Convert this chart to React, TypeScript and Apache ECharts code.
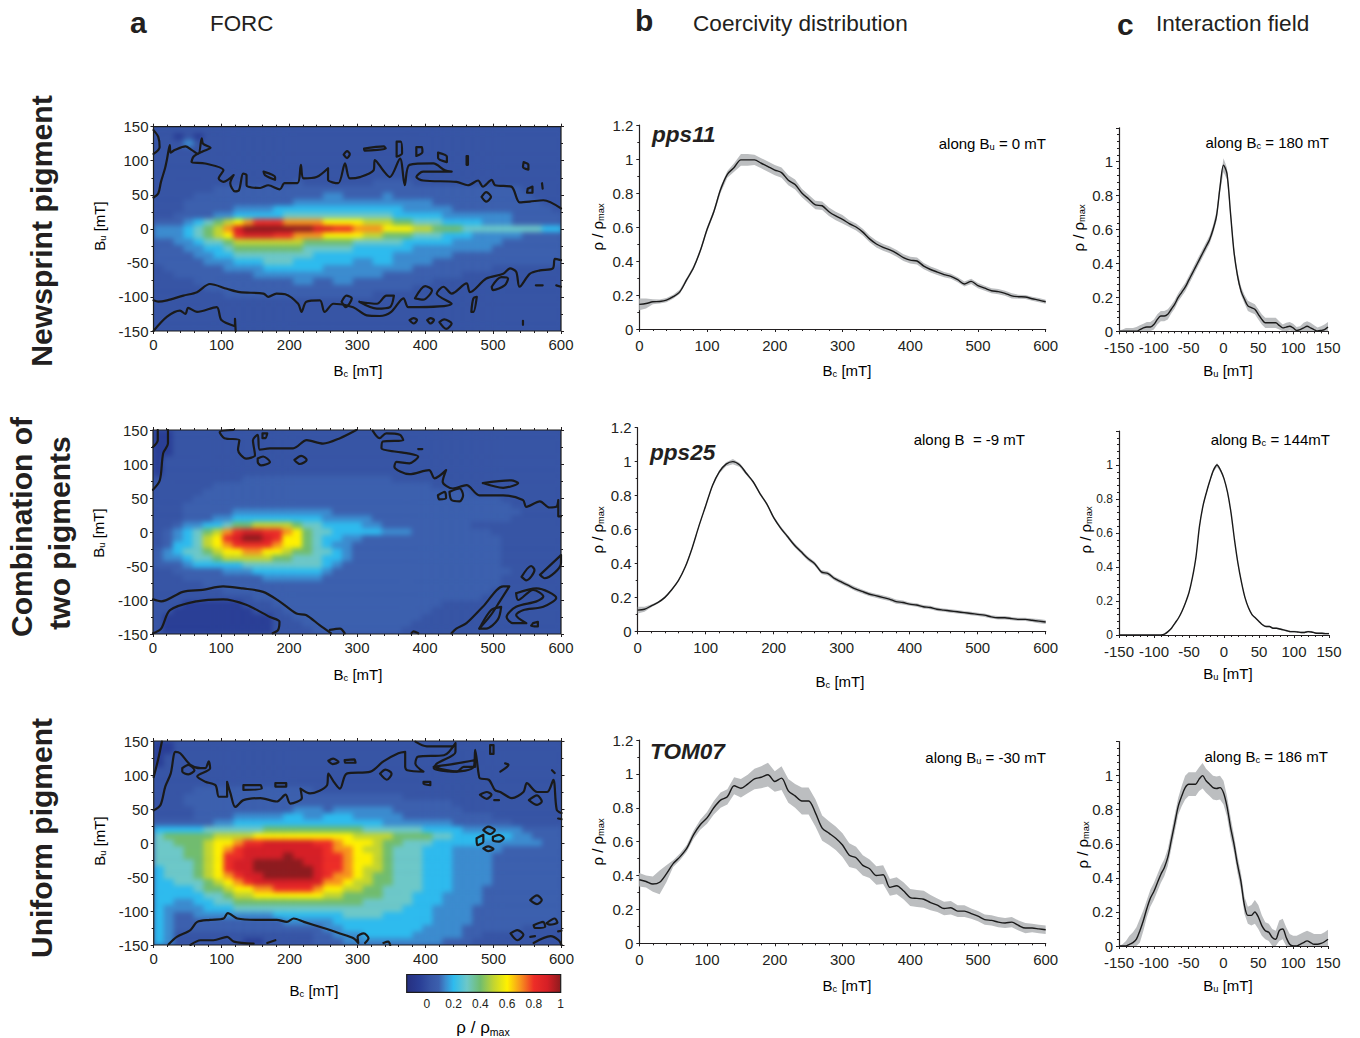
import React, { useEffect, useRef } from "react";
import * as echarts from "echarts";

const FONT = "'Liberation Sans', Arial, sans-serif";
const INK = "#231f20";

const LEVEL_CHARS = "0123456789abc";
const LEVEL_RHO = [-0.05, 0.03, 0.09, 0.14, 0.2, 0.3, 0.4, 0.5, 0.6, 0.7, 0.8, 0.9, 1];
const LEVEL_COLORS = ["#2a3f96", "#3755a5", "#3c60ae", "#3c8ccf", "#2ebbee", "#6dc8c8", "#71bd6e", "#c3d530", "#fff100", "#f7941d", "#ed2d27", "#d61f26", "#8e1b1e"];

// Heat tables: rows from Bu = +150 to -150 in 10 mT steps, columns from Bc = 0 to 600 in 15 mT steps.
const HEAT_A = [
  "11111111111111111111111111111111111111111",
  "11010111111111111111111111111111111111111",
  "11131111111111111111111111111111111111111",
  "11111111111111111111111111111111111111111",
  "11111111111111111111111111111111111111111",
  "11111111111111111111111111111111111111111",
  "11111111111111111111111111111111111111111",
  "11111111111111111111111111111111111111111",
  "11111111111111211111112222111111111111111",
  "11111122222222222222222222222222222221111",
  "11112222222222222332222322222222222222111",
  "11122222222222333333333333332222222222211",
  "11122222333344444444444443333322222222221",
  "11222233444445555555555544444333333322222",
  "2223456789" + "aaa9999888" + "8777665554" + "44433322222",
  "3334567" + "9bc" + "ccccccbbaa" + "9998887766" + "65555555544",
  "3334567" + "8ab" + "bbaa999888" + "8776665554" + "44333332222",
  "2233455677" + "7777766666" + "5555544444" + "33333222222",
  "2223344566" + "6666655555" + "4444443333" + "33332222222",
  "2222334455" + "5555554444" + "4444333333" + "22222222222",
  "2222233344" + "4555444444" + "3344333322" + "22222222222",
  "1222222333" + "3444444333" + "3333332222" + "22221111111",
  "1122222222" + "3333333333" + "3332222222" + "21111111111",
  "1111222222" + "2222332233" + "2222222211" + "11111111111",
  "1111122222" + "2222222222" + "2222221111" + "11111111111",
  "1111111222" + "2222222222" + "2211111111" + "11111111111",
  "11111111111111111111111111111111111111111",
  "11111111111111111111111111111111111111111",
  "11111111111111111111111111111111111111111",
  "11111111111111111111111111111111111111111",
  "11111111111111111111111111111111111111111",
];
const HEAT_B = [
  "00111111111111111111111111111111111111111",
  "00111111111111111111111111111111111111111",
  "00111111111111111111111111111111111111111",
  "00111111111111111111111111111111111111111",
  "01111111111111111111111111111111111111111",
  "01111111111111111111111111111111111111111",
  "01111111111111111111111111111111111111111",
  "11111111122222222222222211111111111111111",
  "11111122222222222222222222221111111111111",
  "11111222222222222222222222222222111111111",
  "11112222222222222222222222222222222111111",
  "11122222222222222222222222222222222211111",
  "1112222233" + "3333333322" + "2222222222" + "22222221111",
  "1112223344" + "4444444333" + "3322222222" + "22222211111",
  "1123344566" + "7777655444" + "4332222222" + "22111111111",
  "1234567" + "9ab" + "baa9865544" + "4443332222" + "22221111111",
  "1234578abc" + "cba8865443" + "3222222222" + "22222111111",
  "1244578" + "9aa" + "aa98865433" + "2222222222" + "22222111111",
  "2345567889" + "9887665543" + "2222222222" + "22222111111",
  "2334556777" + "7766555443" + "2222222222" + "22222111111",
  "2223444445" + "5555555432" + "2222222222" + "22222111111",
  "1122222333" + "4444444322" + "2222222222" + "22222211111",
  "1112222222" + "2333333222" + "2222222222" + "22222111111",
  "1111122222" + "2222222222" + "2222222222" + "22222111111",
  "1111111222" + "2222222222" + "2222222222" + "22221111111",
  "1111111111" + "2222222222" + "2222222222" + "22211111111",
  "1110000001" + "1122222222" + "2222222221" + "11111111111",
  "1100000000" + "1112222222" + "2222222211" + "11111111111",
  "1000000000" + "0011222222" + "2222222111" + "11111111111",
  "1000000000" + "0011122222" + "2222221111" + "11111111111",
  "1000000000" + "0011112222" + "2222211111" + "11111111111",
];
const HEAT_C = [
  "00111111111111111111111111111111111111111",
  "00111111111111111111111111111111111111111",
  "01111111111111111111111111111111111111111",
  "01111111111111111111111111111111111111111",
  "11111111111111111111111111111111111111111",
  "11111111111111111111111111111111111111111",
  "11111111111111111111111111111111111111111",
  "11112222222222221111111111111111111111111",
  "11122222222222222222222221111111111111111",
  "11122222222222222222222222222211111111111",
  "1111222222" + "2222333233" + "3333222222" + "21111111111",
  "1111222233" + "3334433444" + "3333322222" + "22221111111",
  "2222223344" + "4444444444" + "4443333333" + "22222211111",
  "4444455555" + "5666666666" + "6555555444" + "43333332222",
  "5666667777" + "8888888888" + "7777666655" + "44444433222",
  "5566678" + "89a" + "abbbbbaa98" + "8876655544" + "44433333322",
  "5556678" + "9ab" + "bbbbbbba99" + "8776555444" + "33333222222",
  "5556678" + "aab" + "bbbcbbbaa9" + "8876555444" + "33332222222",
  "5555678" + "abb" + "cccccbbaa9" + "8876555444" + "33332222222",
  "4555678" + "abb" + "ccccccbaa9" + "8776555444" + "33332222222",
  "4555678" + "9ab" + "bcccccba99" + "8766555444" + "33332222222",
  "4455567" + "89a" + "bbbbbbb998" + "7766555444" + "33332222222",
  "4444566" + "788" + "99aaaa9887" + "7665555444" + "33322222222",
  "4444455" + "677" + "8888888776" + "6665554443" + "33322222222",
  "4433445566" + "6666666666" + "6555554443" + "33322222222",
  "4333344455" + "5555555555" + "5555544433" + "33222222222",
  "4322333333" + "3344444445" + "5554444433" + "33222222222",
  "4322222222" + "2223333344" + "4444444433" + "33222222222",
  "4322222222" + "2222222334" + "4444444333" + "32222221111",
  "4311111111" + "1111112233" + "3444443333" + "32211111111",
  "4311111110" + "0111112223" + "3333333332" + "22111111111",
];

// Contours, as lists of [Bc, Bu] rings and lines.
const CONTOURS_A = [
  [[0,145],[7,135],[9,120],[0,110]],
  [[0,46],[7,52],[11,69],[17,89],[20,103],[24,123],[25,112],[32,116],[47,121],[56,116],[66,110],[71,133],[73,125],[84,119],[73,114],[59,106],[56,98],[76,96],[103,86],[96,74],[103,69],[118,79],[113,67],[120,55],[126,57],[132,81],[137,79],[137,64],[157,60],[169,64],[186,58],[193,67],[212,67],[217,94],[221,74],[240,76],[257,89],[257,72],[272,67],[282,96],[289,74],[304,76],[324,86],[326,101],[338,86],[348,76],[363,103],[370,64],[377,94],[412,96],[429,86],[439,84],[397,84],[387,76],[397,71],[446,69],[463,64],[478,71],[485,62],[498,72],[503,64],[527,62],[539,39],[554,40],[574,42],[600,30]],
  [[162,84],[179,76],[179,72],[164,79],[162,84]],
  [[280,109],[285,114],[289,110],[285,104],[280,109]],
  [[310,118],[339,121],[342,118],[311,115],[310,118]],
  [[358,128],[364,128],[366,111],[358,106],[358,128]],
  [[387,120],[395,120],[396,113],[387,107],[387,120]],
  [[419,112],[432,106],[432,98],[419,104],[419,112]],
  [[461,107],[463,107],[463,94],[461,94],[461,107]],
  [[545,98],[552,94],[552,87],[544,91],[545,98]],
  [[551,59],[558,62],[558,53],[550,53],[551,59]],
  [[572,67],[573,59]],
  [[483,47],[490,54],[497,47],[490,40],[483,47]],
  [[0,-105],[7,-107],[20,-105],[44,-98],[64,-93],[83,-81],[108,-88],[127,-93],[162,-95],[169,-100],[181,-95],[194,-96],[213,-110],[218,-122],[225,-107],[245,-105],[252,-122],[265,-110],[294,-115],[314,-127],[333,-128],[350,-122],[368,-102],[375,-115],[390,-115],[439,-110],[417,-95],[427,-85],[439,-95],[461,-80],[466,-93],[490,-73],[515,-66],[525,-58],[534,-63],[539,-85],[554,-66],[569,-61],[588,-58],[591,-44],[600,-46]],
  [[277,-107],[284,-98],[292,-102],[283,-115],[277,-107]],
  [[303,-107],[329,-117],[348,-115],[354,-98],[343,-98],[329,-110],[303,-107]],
  [[385,-102],[400,-84],[410,-90],[397,-104],[385,-102]],
  [[498,-85],[512,-71],[522,-73],[517,-83],[500,-90],[498,-85]],
  [[468,-122],[471,-102],[476,-100],[471,-122],[468,-122]],
  [[563,-83],[573,-83]],
  [[593,-83],[600,-85]],
  [[377,-134],[383,-131],[388,-134],[383,-139],[377,-134]],
  [[403,-134],[408,-131],[413,-134],[408,-139],[403,-134]],
  [[421,-137],[428,-133],[439,-139],[431,-147],[421,-137]],
  [[544,-135],[544,-141]],
  [[0,-150],[20,-129],[39,-120],[47,-125],[51,-116],[64,-122],[93,-115],[100,-134],[120,-143],[120,-132],[121,-150]],
];
const CONTOURS_B = [
  [[7,150],[7,135],[0,125]],
  [[22,150],[22,130],[15,116],[10,76],[0,62]],
  [[118,150],[98,147],[105,138],[127,135],[125,121],[137,108],[150,113],[147,135],[154,143],[157,121],[172,123],[186,123],[206,123],[226,135],[250,130],[275,138],[299,150]],
  [[323,149],[333,138],[343,145],[363,143],[368,135],[338,133],[336,123],[358,118],[373,116],[390,111],[377,101],[358,103],[355,96],[377,85],[406,91],[414,79],[431,91],[426,74],[441,64],[461,69],[480,54],[515,54],[544,47],[549,37],[569,45],[583,36],[593,37],[596,47],[596,23],[600,23]],
  [[154,108],[162,111],[172,103],[159,98],[154,103],[154,108]],
  [[208,106],[218,112],[226,106],[216,100],[208,106]],
  [[485,72],[527,76],[537,72],[515,65],[485,72]],
  [[419,54],[429,59],[431,50],[421,48],[419,54]],
  [[436,59],[451,64],[456,54],[451,45],[439,47],[436,59]],
  [[161,145],[168,145],[165,138],[161,138],[161,145]],
  [[390,122],[396,122]],
  [[0,-99],[12,-102],[44,-88],[73,-85],[103,-80],[132,-83],[162,-88],[186,-102],[211,-120],[225,-122],[245,-137],[262,-149]],
  [[0,-149],[12,-142],[25,-115],[64,-102],[103,-99],[137,-107],[172,-125],[186,-132],[184,-144],[176,-149]],
  [[260,-144],[275,-142],[282,-149]],
  [[439,-149],[446,-142],[461,-134],[485,-110],[515,-80],[524,-80],[510,-102],[497,-122],[480,-142]],
  [[480,-142],[497,-115],[512,-110],[507,-129],[490,-142],[480,-142]],
  [[534,-90],[564,-83],[593,-97],[574,-110],[544,-115],[534,-122],[549,-134],[529,-134],[520,-125],[534,-110],[564,-102],[574,-95],[559,-85],[537,-100],[534,-90]],
  [[542,-66],[556,-50],[561,-56],[549,-71],[542,-66]],
  [[569,-63],[600,-34],[600,-46],[576,-68],[569,-63]],
  [[559,-134],[566,-132],[566,-139],[556,-138],[559,-134]],
  [[380,-149],[383,-146],[390,-149]],
];
const CONTOURS_C = [
  [[0,97],[7,125],[12,149]],
  [[0,48],[10,56],[17,83],[25,102],[32,134],[39,132],[54,115],[69,110],[76,110],[81,120],[83,110],[64,98],[76,90],[91,85],[96,68],[108,68],[108,90],[113,73],[120,53],[132,63],[157,66],[181,61],[194,71],[201,58],[218,66],[216,80],[230,73],[255,85],[257,102],[265,90],[274,80],[284,102],[319,105],[338,120],[360,132],[370,134],[370,112],[373,107],[397,105],[385,117],[389,127],[427,129],[444,147],[444,134],[417,117],[412,110],[441,105],[471,112],[473,137],[478,102],[480,95],[493,93],[502,78],[510,75],[527,66],[544,75],[549,88],[564,75],[579,75],[588,93],[593,49],[600,44]],
  [[385,149],[402,142],[441,142]],
  [[42,110],[51,115],[60,107],[51,101],[42,105],[42,110]],
  [[257,121],[264,124],[272,119],[263,116],[257,121]],
  [[281,122],[295,123],[297,118],[282,118],[281,122]],
  [[333,102],[341,108],[350,102],[343,93],[333,102]],
  [[132,85],[157,85],[159,80],[132,78],[132,85]],
  [[179,88],[195,88],[195,83],[179,83],[179,88]],
  [[412,112],[446,117],[473,122],[473,112],[456,112],[446,105],[417,110],[412,112]],
  [[397,90],[407,90],[407,85],[397,87],[397,90]],
  [[480,71],[490,75],[497,71],[490,65],[480,71]],
  [[501,63],[508,63]],
  [[552,63],[564,70],[571,61],[564,56],[552,63]],
  [[495,144],[495,131],[500,131],[500,144],[495,144]],
  [[517,117],[522,115],[510,105]],
  [[586,107],[590,103]],
  [[595,36],[600,35]],
  [[485,19],[492,24],[502,19],[495,13],[485,19]],
  [[499,9],[508,12],[515,7],[508,2],[499,4],[499,9]],
  [[475,7],[485,12],[485,2],[476,-3],[475,7]],
  [[485,-8],[492,-5],[500,-9],[492,-12],[485,-8]],
  [[22,-149],[34,-138],[54,-128],[64,-116],[83,-113],[103,-111],[109,-103],[123,-111],[152,-113],[181,-113],[196,-116],[206,-111],[221,-116],[250,-125],[274,-133],[294,-140],[301,-147],[300,-138],[309,-133],[316,-140],[311,-147]],
  [[54,-150],[69,-143],[88,-143],[108,-138],[118,-145],[147,-148]],
  [[167,-147],[179,-143]],
  [[338,-147],[345,-145],[348,-150]],
  [[554,-84],[564,-77],[571,-84],[564,-90],[554,-84]],
  [[559,-121],[573,-116],[576,-123],[561,-125],[559,-121]],
  [[578,-118],[590,-111],[594,-117],[583,-120],[578,-118]],
  [[525,-133],[535,-128],[544,-135],[535,-143],[525,-133]],
  [[554,-138],[561,-137]],
  [[559,-147],[584,-137],[596,-143],[600,-150]],
  [[595,-130],[600,-129]],
];

// Coercivity distributions: Bc = 0..600, step 10 mT.
const BC_GRID = [0,10,20,30,40,50,60,70,80,90,100,110,120,130,140,150,160,170,180,190,200,210,220,230,240,250,260,270,280,290,300,310,320,330,340,350,360,370,380,390,400,410,420,430,440,450,460,470,480,490,500,510,520,530,540,550,560,570,580,590,600];
const B1_MEAN = [.145,.15,.16,.162,.17,.19,.22,.29,.36,.46,.585,.69,.82,.91,.95,.995,.995,.995,.975,.955,.935,.92,.875,.85,.8,.765,.73,.725,.69,.665,.645,.62,.6,.57,.53,.5,.48,.465,.445,.42,.405,.4,.37,.35,.335,.32,.31,.29,.265,.28,.255,.24,.225,.22,.21,.195,.19,.188,.178,.17,.16];
const B1_SPREAD = [.035,.03,.015,.012,.012,.012,.012,.012,.012,.012,.015,.015,.02,.02,.025,.035,.035,.03,.03,.03,.03,.03,.03,.03,.025,.025,.025,.025,.025,.025,.025,.02,.02,.02,.02,.02,.02,.02,.02,.02,.02,.02,.018,.018,.018,.015,.015,.015,.015,.015,.015,.015,.015,.015,.015,.015,.012,.012,.012,.012,.012];
const B2_MEAN = [.125,.13,.15,.17,.2,.245,.3,.38,.49,.62,.74,.86,.94,.985,1,.98,.93,.88,.81,.75,.67,.61,.56,.51,.47,.43,.4,.35,.34,.31,.29,.27,.25,.235,.22,.21,.2,.19,.175,.17,.16,.155,.145,.14,.13,.125,.12,.115,.11,.105,.1,.095,.085,.08,.08,.075,.07,.07,.065,.06,.055];
const B2_SPREAD = [.02,.015,.008,.006,.006,.006,.006,.006,.006,.006,.006,.008,.01,.012,.015,.012,.01,.008,.008,.008,.008,.01,.01,.012,.012,.012,.012,.012,.012,.012,.012,.012,.012,.012,.012,.012,.012,.012,.012,.012,.01,.01,.01,.01,.01,.01,.01,.01,.01,.01,.01,.01,.01,.01,.01,.01,.01,.01,.01,.012,.012];
const B3_MEAN = [.375,.365,.35,.36,.41,.47,.51,.56,.64,.7,.74,.8,.845,.865,.93,.915,.94,.97,.98,.995,.955,.975,.9,.87,.84,.84,.77,.68,.65,.62,.58,.52,.505,.46,.44,.4,.405,.33,.34,.31,.27,.265,.26,.24,.225,.205,.21,.19,.19,.175,.16,.14,.135,.125,.12,.125,.105,.09,.09,.085,.08];
const B3_SPREAD = [.04,.035,.045,.07,.05,.02,.02,.02,.025,.03,.035,.04,.045,.045,.05,.055,.055,.06,.065,.07,.06,.07,.07,.07,.08,.08,.08,.075,.07,.07,.07,.07,.065,.06,.055,.055,.055,.05,.05,.05,.05,.05,.05,.045,.04,.04,.04,.035,.035,.03,.03,.03,.03,.03,.03,.03,.03,.03,.025,.025,.025];

// Interaction field profiles: Bu = -150..150, step 5 mT.
const BU_GRID = [-150,-145,-140,-135,-130,-125,-120,-115,-110,-105,-100,-95,-90,-85,-80,-75,-70,-65,-60,-55,-50,-45,-40,-35,-30,-25,-20,-15,-10,-5,0,5,10,15,20,25,30,35,40,45,50,55,60,65,70,75,80,85,90,95,100,105,110,115,120,125,130,135,140,145,150];
const C1_MEAN = [0,0,0,0,0,0,.01,.02,.025,.025,.04,.07,.09,.09,.1,.13,.16,.2,.23,.26,.3,.34,.38,.42,.46,.5,.54,.6,.68,.85,.98,.93,.7,.47,.33,.24,.19,.15,.14,.13,.1,.07,.05,.05,.05,.05,.035,.02,.025,.03,.02,.005,.01,.02,.03,.02,.01,.002,.005,.01,.025];
const C1_SPREAD = [.005,.01,.02,.02,.02,.025,.025,.025,.03,.03,.03,.03,.03,.03,.03,.025,.025,.025,.025,.025,.025,.025,.025,.025,.025,.025,.025,.025,.03,.03,.04,.035,.025,.025,.025,.025,.025,.03,.03,.03,.03,.03,.03,.03,.03,.03,.025,.02,.025,.025,.025,.02,.02,.03,.03,.03,.025,.02,.025,.03,.03];
const C2_MEAN = [0,0,0,0,0,0,0,0,0,0,0,0,0,.005,.02,.04,.07,.1,.14,.19,.25,.34,.46,.64,.76,.84,.91,.97,1,.97,.92,.84,.72,.56,.42,.31,.22,.16,.12,.1,.08,.06,.05,.05,.04,.04,.035,.03,.025,.02,.02,.018,.015,.015,.02,.018,.012,.01,.01,.008,.008];
const C2_SPREAD = [0,0,0,0,0,0,0,0,0,0,0,0,0,.002,.004,.005,.005,.005,.005,.005,.005,.005,.005,.005,.008,.008,.008,.01,.012,.01,.008,.006,.005,.005,.005,.005,.005,.005,.005,.005,.005,.005,.005,.005,.005,.005,.005,.005,.005,.005,.005,.005,.005,.005,.005,.005,.005,.005,.005,.005,.005];
const C3_MEAN = [0,0,0,.01,.02,.04,.09,.15,.22,.28,.32,.37,.42,.46,.52,.62,.72,.82,.88,.93,.95,.95,.95,.98,1,.97,.95,.93,.925,.93,.9,.82,.7,.6,.48,.38,.24,.18,.18,.2,.17,.12,.09,.08,.05,.04,.09,.1,.05,.01,0,0,.01,.02,.03,.02,.01,.01,.015,.025,.04];
const C3_SPREAD = [0,.01,.03,.05,.06,.07,.07,.06,.05,.05,.05,.05,.05,.05,.05,.05,.05,.05,.06,.07,.07,.07,.07,.07,.075,.07,.07,.07,.07,.07,.07,.06,.06,.05,.05,.05,.05,.05,.06,.07,.07,.06,.05,.05,.05,.05,.06,.06,.06,.06,.06,.06,.06,.06,.06,.06,.06,.06,.055,.055,.055];

const COLORBAR_TICKS = [0, 0.2, 0.4, 0.6, 0.8, 1];

const FORC_RECTS = [
  { left: 153.5, top: 126.7, width: 407.5, height: 204.3 },
  { left: 153, top: 430, width: 408, height: 204 },
  { left: 153.7, top: 741, width: 407.8, height: 204 },
];

function Heat({ rows, rect }: { rows: string[]; rect: { left: number; top: number; width: number; height: number } }) {
  const ref = useRef<HTMLDivElement>(null);
  useEffect(() => {
    const chart = echarts.init(ref.current!, null, { renderer: "svg" });
    const data: number[][] = [];
    rows.forEach((row, r) => {
      for (let c = 0; c < row.length && c < 41; c++) data.push([c, r, LEVEL_RHO[LEVEL_CHARS.indexOf(row[c])]]);
    });
    chart.setOption({
      animation: false,
      grid: { left: 0, right: 0, top: 0, bottom: 0 },
      xAxis: { type: "category", show: false, data: Array.from({ length: 41 }, (_, i) => i * 15) },
      yAxis: { type: "category", show: false, inverse: true, data: Array.from({ length: 31 }, (_, i) => 150 - i * 10) },
      visualMap: {
        type: "piecewise", show: false, dimension: 2,
        pieces: LEVEL_RHO.map((v, i) => ({ value: v, color: LEVEL_COLORS[i] })),
      },
      series: [{ type: "heatmap", data, silent: true }],
    });
    return () => chart.dispose();
  }, []);
  return (
    <div style={{ position: "absolute", ...rect, overflow: "hidden", background: LEVEL_COLORS[1] }}>
      <div ref={ref} style={{ width: rect.width, height: rect.height, filter: "blur(2.5px)" }} />
    </div>
  );
}

function App() {
  const ref = useRef<HTMLDivElement>(null);
  useEffect(() => {
    const chart = echarts.init(ref.current!, null, { renderer: "svg" });
    const grids: any[] = [];
    const xAxes: any[] = [];
    const yAxes: any[] = [];
    const series: any[] = [];
    const label = { color: INK, fontFamily: FONT, fontSize: 15 };
    const line = { lineStyle: { color: INK, width: 1 } };

    const forc = (rect: any, contours: number[][][]) => {
      const g = grids.length;
      grids.push({ ...rect, show: true, borderColor: "#1c1c1c", borderWidth: 1.2, backgroundColor: "transparent" });
      const xBase = { type: "value", gridIndex: g, min: 0, max: 600, interval: 100, splitLine: { show: false }, axisLine: { show: false, onZero: false } };
      const yBase = { type: "value", gridIndex: g, min: -150, max: 150, interval: 50, splitLine: { show: false }, axisLine: { show: false, onZero: false } };
      const tick = { show: true, length: 3, ...line };
      const xMinor = { show: true, splitNumber: 5, length: 2, ...line };
      const yMinor = { show: true, splitNumber: 2, length: 2, ...line };
      const xi = xAxes.length;
      const yi = yAxes.length;
      xAxes.push({ ...xBase, position: "bottom", axisTick: tick, minorTick: xMinor, axisLabel: { ...label, margin: 6 } });
      yAxes.push({ ...yBase, position: "left", axisTick: tick, minorTick: yMinor, axisLabel: { ...label, margin: 5, showMinLabel: true } });
      xAxes.push({ ...xBase, position: "top", axisTick: tick, minorTick: xMinor, axisLabel: { show: false } });
      yAxes.push({ ...yBase, position: "right", axisTick: tick, minorTick: yMinor, axisLabel: { show: false } });
      contours.forEach((c) => {
        series.push({
          type: "line", xAxisIndex: xi, yAxisIndex: yi, data: c, symbol: "none", silent: true, z: 3,
          smooth: 0.3, lineStyle: { color: "#1a1a1a", width: 2.2, join: "round", cap: "round" },
        });
      });
    };

    const profile = (
      rect: any, xs: number[], mean: number[], spread: number[],
      xOpt: any, yOpt: any, labelSize: number,
    ) => {
      const g = grids.length;
      grids.push(rect);
      const xi = xAxes.length;
      const yi = yAxes.length;
      const axLine = { show: true, lineStyle: { color: INK, width: 1.2 } };
      xAxes.push({
        type: "value", gridIndex: g, splitLine: { show: false }, axisLine: { ...axLine, onZero: false },
        axisTick: { show: true, length: 3, ...line }, minorTick: { show: true, splitNumber: 5, length: 2, ...line },
        axisLabel: { ...label, margin: 8.5, showMinLabel: true, showMaxLabel: true }, ...xOpt,
      });
      yAxes.push({
        type: "value", gridIndex: g, min: 0, splitLine: { show: false }, axisLine: { ...axLine, onZero: false },
        axisTick: { show: true, length: 3, ...line },
        axisLabel: { ...label, fontSize: labelSize, margin: 6 }, ...yOpt,
      });
      const lower = mean.map((m, i) => Math.max(0, m - spread[i]));
      const upper = mean.map((m, i) => m + spread[i]);
      series.push({
        type: "custom", xAxisIndex: xi, yAxisIndex: yi, silent: true, clip: true, z: 2,
        data: xs.map((x, i) => [x, lower[i], upper[i]]),
        encode: { x: 0, y: [1, 2] },
        renderItem: (params: any, api: any) => {
          if (params.dataIndex !== 0) return null;
          const top = xs.map((x, i) => api.coord([x, upper[i]]));
          const bottom = xs.map((x, i) => api.coord([x, lower[i]])).reverse();
          return { type: "polygon", shape: { points: top.concat(bottom) }, style: { fill: "#bcbec0" } };
        },
      });
      series.push({
        type: "line", xAxisIndex: xi, yAxisIndex: yi, symbol: "none", silent: true, z: 4, smooth: 0.3,
        data: xs.map((x, i) => [x, mean[i]]), lineStyle: { color: "#1a1a1a", width: 1.4 },
      });
    };

    forc(FORC_RECTS[0], CONTOURS_A);
    forc(FORC_RECTS[1], CONTOURS_B);
    forc(FORC_RECTS[2], CONTOURS_C);

    const bX = { min: 0, max: 600, interval: 100 };
    const bY = { max: 1.2, interval: 0.2, minorTick: { show: true, splitNumber: 2, length: 2, ...line } };
    profile({ left: 639.3, top: 125, width: 406.4, height: 204 }, BC_GRID, B1_MEAN, B1_SPREAD, bX, bY, 15);
    profile({ left: 637.7, top: 427.7, width: 408, height: 203.6 }, BC_GRID, B2_MEAN, B2_SPREAD, bX, bY, 15);
    profile({ left: 639.3, top: 740, width: 406.4, height: 203.3 }, BC_GRID, B3_MEAN, B3_SPREAD, bX, bY, 15);

    const cX = { min: -150, max: 150, interval: 50 };
    const cY = {
      max: 1.2, interval: 0.2, minorTick: { show: true, splitNumber: 5, length: 2, ...line },
    };
    const cYNoTop = (size: number) => ({
      ...cY,
      axisLabel: { ...label, fontSize: size, margin: 6, showMaxLabel: false },
    });
    profile({ left: 1119, top: 127.8, width: 209, height: 203.5 }, BU_GRID, C1_MEAN, C1_SPREAD, cX, cYNoTop(15), 15);
    profile({ left: 1119, top: 431, width: 210, height: 204 }, BU_GRID, C2_MEAN, C2_SPREAD, cX, cYNoTop(12), 12);
    profile({ left: 1119, top: 741.6, width: 209, height: 204.4 }, BU_GRID, C3_MEAN, C3_SPREAD, cX, cYNoTop(15), 15);

    // Colour bar scale
    const cbGrid = grids.length;
    grids.push({ left: 406.7, top: 974.5, width: 154, height: 17.8 });
    xAxes.push({
      type: "value", gridIndex: cbGrid, min: -0.15, max: 1,
      axisLine: { show: false, onZero: false }, axisTick: { show: false }, splitLine: { show: false },
      axisLabel: { color: INK, fontFamily: "'Liberation Sans Narrow', 'Liberation Sans', sans-serif", fontSize: 12, margin: 6, customValues: COLORBAR_TICKS },
    });
    yAxes.push({ type: "value", gridIndex: cbGrid, show: false });

    const sub = { fontFamily: FONT, color: INK };
    const richName = (size: number) => ({
      a: { ...sub, fontSize: size },
      s: { ...sub, fontSize: size * 0.62, padding: [size * 0.55, 0, 0, 0] },
    });
    const nameText = (text: string, x: number, y: number, rotated: boolean, size = 15, align = "center") => ({
      type: "text", x, y, rotation: rotated ? Math.PI / 2 : 0, silent: true, z: 10,
      style: { text, align, verticalAlign: "middle", rich: richName(size) },
    });
    const plain = (text: string, x: number, y: number, size: number, weight = "normal", style = "normal", rotation = 0) => ({
      type: "text", x, y, rotation, silent: true, z: 10,
      style: { text, fontFamily: FONT, fontSize: size, fontWeight: weight, fontStyle: style, fill: INK, align: rotation ? "center" : "left", verticalAlign: "middle" },
    });

    const BC = "{a|B}{s|c}{a| [mT]}";
    const BU = "{a|B}{s|u}{a| [mT]}";
    const RHO = "{a|ρ / ρ}{s|max}";
    const gradientStops = LEVEL_RHO.map((v, i) => ({ offset: (v + 0.15) / 1.15, color: LEVEL_COLORS[i] }));
    gradientStops.unshift({ offset: 0, color: "#262f80" });

    const graphic: any[] = [
      plain("a", 130, 22, 30, "bold"),
      plain("FORC", 210, 23.5, 22.4),
      plain("b", 635, 20, 30, "bold"),
      plain("Coercivity distribution", 693, 23.5, 22.6),
      plain("c", 1117, 24, 30, "bold"),
      plain("Interaction field", 1156, 23.5, 22.6),
      plain("Newsprint pigment", 41, 231, 30.2, "bold", "normal", Math.PI / 2),
      plain("Combination of", 21, 527, 30, "bold", "normal", Math.PI / 2),
      plain("two pigments", 59, 533, 30, "bold", "normal", Math.PI / 2),
      plain("Uniform pigment", 41, 838, 30, "bold", "normal", Math.PI / 2),
      plain("pps11", 652, 134, 22.6, "bold", "italic"),
      plain("pps25", 650, 452, 22.6, "bold", "italic"),
      plain("TOM07", 650, 751, 22.6, "bold", "italic"),
      nameText(BC, 358, 370, false), nameText(BC, 358, 674, false), nameText(BC, 314, 990, false),
      nameText(BC, 847, 370, false), nameText(BC, 840, 681, false), nameText(BC, 847, 985, false),
      nameText(BU, 1228, 370, false), nameText(BU, 1228, 673, false), nameText(BU, 1228, 985, false),
      nameText(BU, 99, 226, true), nameText(BU, 98, 533, true), nameText(BU, 99, 841, true),
      nameText(RHO, 597, 227, true), nameText(RHO, 597, 530, true), nameText(RHO, 597, 842, true),
      nameText(RHO, 1078, 228, true), nameText(RHO, 1085, 530, true), nameText(RHO, 1082, 845, true),
      nameText("{a|along B}{s|u}{a| = 0 mT}", 1046, 143, false, 15, "right"),
      nameText("{a|along B  = -9 mT}", 1025, 439, false, 15, "right"),
      nameText("{a|along B}{s|u}{a| = -30 mT}", 1046, 757, false, 15, "right"),
      nameText("{a|along B}{s|c}{a| = 180 mT}", 1329, 142, false, 15, "right"),
      nameText("{a|along B}{s|c}{a| = 144mT}", 1330, 439, false, 15, "right"),
      nameText("{a|along B}{s|c}{a| = 186 mT}", 1328, 756, false, 15, "right"),
      nameText("{a|ρ / ρ}{s|max}", 483, 1027, false, 17),
      {
        type: "rect", shape: { x: 406.7, y: 974.5, width: 154, height: 17.8 }, silent: true,
        style: {
          fill: new echarts.graphic.LinearGradient(0, 0, 1, 0, gradientStops),
          stroke: "#1c1c1c", lineWidth: 1.2,
        },
      },
    ];

    chart.setOption({
      animation: false,
      backgroundColor: "transparent",
      grid: grids, xAxis: xAxes, yAxis: yAxes, series, graphic,
    });
    return () => chart.dispose();
  }, []);
  return (
    <div style={{ position: "absolute", left: 0, top: 0, width: 1360, height: 1038, background: "#fff", overflow: "hidden" }}>
      <Heat rows={HEAT_A} rect={FORC_RECTS[0]} />
      <Heat rows={HEAT_B} rect={FORC_RECTS[1]} />
      <Heat rows={HEAT_C} rect={FORC_RECTS[2]} />
      <div ref={ref} style={{ position: "absolute", left: 0, top: 0, width: 1360, height: 1038 }} />
    </div>
  );
}

export default App;
